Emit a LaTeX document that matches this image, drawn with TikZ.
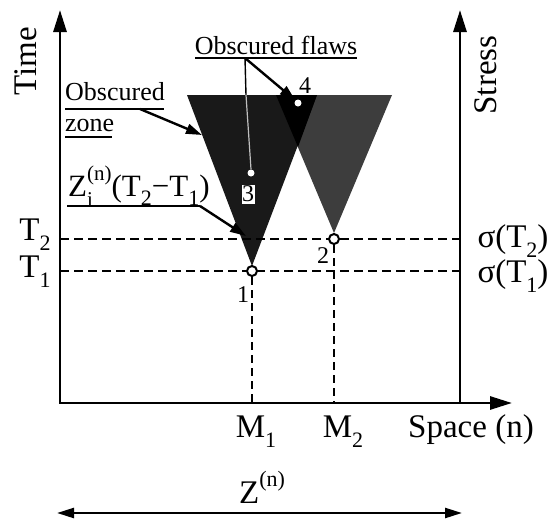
\documentclass[tikz,border=0pt]{standalone}
\usepackage{fontspec}
\setmainfont{Liberation Serif}
\usetikzlibrary{arrows.meta}
\newcommand{\mysub}[1]{\raisebox{-0.32em}{\fontsize{22}{22}\selectfont #1}}
\newcommand{\mysupsub}[2]{\rlap{\raisebox{-0.34em}{\fontsize{21}{21}\selectfont #2}}\raisebox{0.5em}{\fontsize{21}{21}\selectfont #1}}
\begin{document}
\begin{tikzpicture}[x=1pt,y=-1pt,
  big/.style={font=\fontsize{33}{36}\selectfont, inner sep=0pt},
  zfont/.style={font=\fontsize{31}{34}\selectfont, inner sep=0pt},
  mid/.style={font=\fontsize{26}{28}\selectfont, inner sep=0pt},
  num/.style={font=\fontsize{24}{24}\selectfont, inner sep=0pt},
  axisboth/.style={line width=2.8pt, {Triangle[length=22pt,width=13pt]}-{Triangle[length=22pt,width=13pt]}},
  axisone/.style={line width=2.8pt, -{Triangle[length=22pt,width=13pt]}},
  dashline/.style={line width=2.3pt, dash pattern=on 9pt off 5pt},
  vdash/.style={line width=2pt, dash pattern=on 8pt off 5pt},
  ptr/.style={line width=2.4pt, -{Triangle[length=16pt,width=10pt]}},
  uline/.style={line width=2.4pt},
  flaw/.style={circle, draw=black, fill=white, line width=2pt, inner sep=0pt, minimum size=10pt},
  wdot/.style={circle, fill=white, inner sep=0pt, minimum size=7pt},
  dbl/.style={line width=2.4pt, {Triangle[length=17pt,width=10pt]}-{Triangle[length=17pt,width=10pt]}},
]
\useasboundingbox (0,0) rectangle (550,520);
% cones
\fill[black!76] (276,95) -- (392,95) -- (334,233) -- cycle;
\fill[black!90] (187,95) -- (317,95) -- (252,266) -- cycle;
\fill[black] (276,95) -- (317,95) -- (298,147) -- cycle;
% coordinates
\coordinate (Ytop) at (60,10);
\coordinate (O) at (60,403);
\coordinate (Xend) at (512,403);
\coordinate (Rb) at (460,403);
\coordinate (Rtop) at (460,10);
\coordinate (T2l) at (60,239);
\coordinate (T2r) at (460,239);
\coordinate (T1l) at (60,271);
\coordinate (T1r) at (460,271);
\coordinate (M1b) at (252,403);
\coordinate (M2b) at (334,403);
% dashed lines
\draw[dashline] (T2l) -- (T2r);
\draw[dashline] (T1l) -- (T1r);
% points
\node[flaw] (p1) at (252,271) {};
\node[flaw] (p2) at (334,239) {};
\draw[vdash] (p1.south) -- (M1b);
\draw[vdash] (p2.south) -- (M2b);
% axes
\draw[axisboth] (Ytop) -- (O) -- (Xend);
\draw[axisone] (Rb) -- (Rtop);
% flaws 3 and 4
\node[wdot] (p3) at (251,173) {};
\node[wdot] (p4) at (298,103) {};
\node[num, fill=white, minimum width=13pt, minimum height=19pt] (l3) at (248,194) {3};
\node[num] (l4) at (305,86) {4};
\node[num] (l1) at (243,295) {1};
\node[num] (l2) at (323,256) {2};
% axis labels
\node[big, rotate=90] (time) at (26,61) {Time};
\node[big, rotate=90] (stress) at (486,75) {Stress};
\node[big, anchor=base] (t2) at (35,240) {T\mysub{2}};
\node[big, anchor=base] (t1) at (35,277) {T\mysub{1}};
\node[big, anchor=base] (s2) at (513,247) {σ(T\mysub{2})};
\node[big, anchor=base] (s1) at (513,282) {σ(T\mysub{1})};
\node[big, anchor=base] (m1) at (256,437) {M\mysub{1}};
\node[big, anchor=base] (m2) at (343,437) {M\mysub{2}};
\node[big, anchor=base] (space) at (471,437) {Space (n)};
\node[big, anchor=base] (zn) at (262,503) {Z\raisebox{0.5em}{\fontsize{22}{22}\selectfont (n)}};
\coordinate (DL) at (57,513);
\coordinate (DR) at (462,513);
\draw[dbl] (DL) -- (DR);
% obscured flaws
\node[mid] (of) at (276,45) {Obscured flaws};
\draw[uline] (195,58) -- (357,58);
\coordinate (ofp) at (245,58);
\coordinate (ofq) at (246,95);
\draw[line width=1.4pt] (ofp) -- (ofq);
\draw[line width=1.2pt, white!75!black] (ofq) -- (p3.north);
\draw[ptr] (ofp) -- (p4.north west);
% obscured zone
\node[mid, anchor=base west] (obs) at (65,100) {Obscured};
\node[mid, anchor=base west] (zone) at (65,131) {zone};
\draw[uline] (65,109) -- (164,109);
\draw[uline] (65,137) -- (112,137);
\coordinate (ozs) at (140,109);
\coordinate (ozt) at (202,135);
\draw[ptr] (ozs) -- (ozt);
% Z_i label
\node[zfont, anchor=base west] (zi) at (68,196) {Z\mysupsub{(n)}{i}(T\mysub{2}−T\mysub{1})};
\coordinate (ziu) at (200,206);
\coordinate (zit) at (246,236);
\draw[uline] (67,206) -- (ziu);
\draw[ptr] (ziu) -- (zit);
\end{tikzpicture}
\end{document}
